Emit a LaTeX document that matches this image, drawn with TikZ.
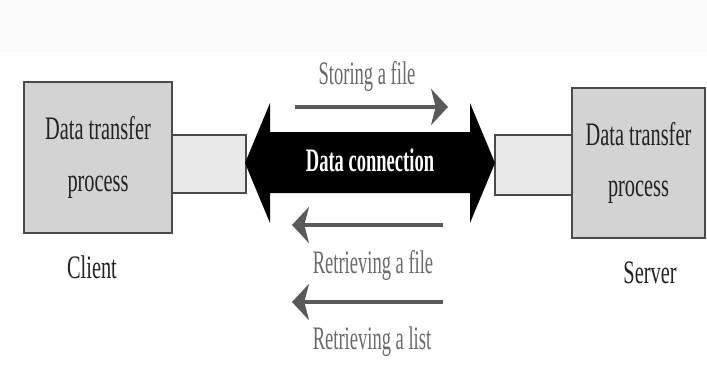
\documentclass[tikz,border=0pt]{standalone}
\usepackage{fontspec}
\setmainfont{Liberation Serif}[FakeStretch=0.62]
\newfontfamily\tallfont{Liberation Serif}[FakeStretch=0.565]
\usetikzlibrary{arrows.meta}
\definecolor{boxfill}{HTML}{D3D3D3}
\definecolor{linkfill}{HTML}{E8E8E8}
\definecolor{edgegray}{HTML}{4A4A4A}
\definecolor{flowgray}{HTML}{5A5A5A}
\definecolor{labelgray}{HTML}{6A6A6A}
\definecolor{inkgray}{HTML}{222222}
\definecolor{bandgray}{HTML}{FAFAFA}

\begin{document}
\begin{tikzpicture}[x=0.03cm,y=-0.03cm,
    procbox/.style={draw=edgegray,line width=1.8pt,fill=boxfill,align=center,text=inkgray,inner sep=0pt,font=\fontsize{28}{44}\selectfont},
    linkbox/.style={draw=edgegray,line width=1.8pt,fill=linkfill},
    flow/.style={flowgray,line width=3.4pt,-{Stealth[length=14.5pt,width=31pt,inset=4pt]}},
    flowlabel/.style={text=labelgray,font=\tallfont\fontsize{28}{30}\selectfont},
    sidelabel/.style={text=inkgray,font=\fontsize{28}{30}\selectfont}]
    \useasboundingbox (0,0) rectangle (707,364);
    \fill[bandgray] (0,0) rectangle (707,52);
    % links between the processes and the connection
    \draw[linkbox] (172,135) rectangle (246,193);
    \draw[linkbox] (495,135) rectangle (572,195);
    % the two processes
    \node[procbox,minimum width=4.44cm,minimum height=4.53cm] (clientbox) at (98,157.5) {Data transfer\\process};
    \node[procbox,minimum width=3.99cm,minimum height=4.5cm] (serverbox) at (638.5,163) {Data transfer\\process};
    \node[sidelabel] (client) at (92,267.5) {Client};
    \node[sidelabel] (server) at (650,273) {Server};
    % data connection
    \fill[black] (245,163) -- (270,103) -- (270,132) -- (470,132) -- (470,103) -- (495,163)
        -- (470,223) -- (470,193) -- (270,193) -- (270,223) -- cycle;
    \node[text=white,font=\tallfont\bfseries\fontsize{28}{30}\selectfont] (dataconn) at (370,160) {Data connection};
    % directions of transfer
    \coordinate (storeA) at (295,107);
    \coordinate (storeB) at (448,107);
    \coordinate (fileA) at (443,225);
    \coordinate (fileB) at (292,225);
    \coordinate (listA) at (443,302);
    \coordinate (listB) at (292,302);
    \draw[flow] (storeA) -- (storeB);
    \draw[flow] (fileA) -- (fileB);
    \draw[flow] (listA) -- (listB);
    \node[flowlabel] (store) at (367,76) {Storing a file};
    \node[flowlabel] (getfile) at (373,265) {Retrieving a file};
    \node[flowlabel] (getlist) at (372,342) {Retrieving a list};
\end{tikzpicture}
\end{document}
